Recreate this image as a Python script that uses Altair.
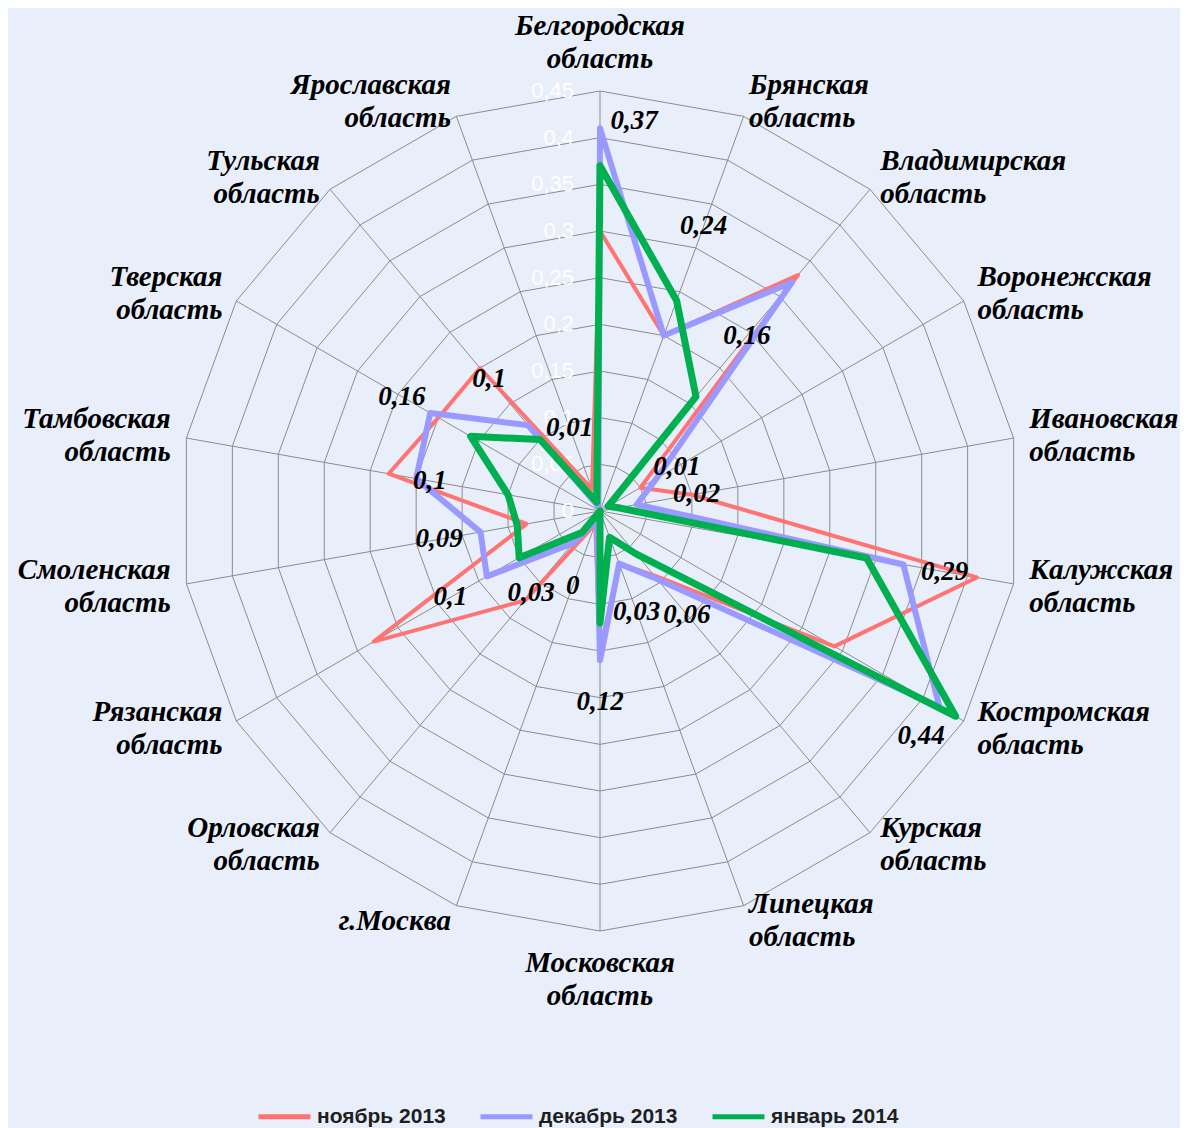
import altair as alt
import pandas as pd

# ---------------- data ----------------
categories = [
    "Белгородская\nобласть", "Брянская\nобласть", "Владимирская\nобласть", "Воронежская\nобласть",
    "Ивановская\nобласть", "Калужская\nобласть", "Костромская\nобласть", "Курская\nобласть",
    "Липецкая\nобласть", "Московская\nобласть", "г.Москва", "Орловская\nобласть",
    "Рязанская\nобласть", "Смоленская\nобласть", "Тамбовская\nобласть", "Тверская\nобласть",
    "Тульская\nобласть", "Ярославская\nобласть",
]
series_names = ["ноябрь 2013", "декабрь 2013", "январь 2014"]
nov_2013 = [0.30, 0.20, 0.33, 0.05, 0.10, 0.41, 0.29, 0.09, 0.06, 0.15, 0.015, 0.125,
            0.28, 0.08, 0.23, 0.20, 0.20, 0.025]
dec_2013 = [0.41, 0.20, 0.32, 0.07, 0.04, 0.33, 0.42, 0.095, 0.06, 0.16, 0.01, 0.045,
            0.14, 0.13, 0.20, 0.21, 0.12, 0.005]
jan_2014 = [0.37, 0.24, 0.16, 0.01, 0.02, 0.29, 0.44, 0.06, 0.03, 0.12, 0.0, 0.03,
            0.10, 0.09, 0.10, 0.16, 0.10, 0.01]
tick_values = [0, 0.05, 0.1, 0.15, 0.2, 0.25, 0.3, 0.35, 0.4, 0.45]
tick_labels = ["0", "0,05", "0,1", "0,15", "0,2", "0,25", "0,3", "0,35", "0,4", "0,45"]

colors = ["#FF7373", "#9999FF", "#00B050"]
widths = [4, 6, 7]

# ---------------- layout ----------------
N = len(categories)
W, H = 1172, 1120
CX, CY = 592, 503
PPU = 933.3
xdom = [-CX / PPU, (W - CX) / PPU]
ydom = [-(H - CY) / PPU, CY / PPU]
xs = alt.Scale(domain=xdom, nice=False, zero=False)
ys = alt.Scale(domain=ydom, nice=False, zero=False)
RMAX = tick_values[-1]
LINE_SHIFT = 16.5 / PPU  # centre two-line labels on their anchor

def fmt(v):
    return f"{v:g}".replace(".", ",")

series_rows = []
for name, vals in zip(series_names, [nov_2013, dec_2013, jan_2014]):
    for k in range(N + 1):
        series_rows.append({"series": name, "k": k, "v": vals[k % N]})
series_df = pd.DataFrame(series_rows)

ring_rows = []
for t in tick_values[1:]:
    for k in range(N + 1):
        ring_rows.append({"ring": t, "k": k, "v": t})
ring_df = pd.DataFrame(ring_rows)

spoke_df = pd.DataFrame({"k": list(range(N)), "v": [RMAX] * N, "z": [0] * N})
tick_df = pd.DataFrame({"v": tick_values, "label": tick_labels, "z": [0] * len(tick_values)})
cat_df = pd.DataFrame({"k": list(range(N)), "label": categories})
lab_df = pd.DataFrame({"k": list(range(N)), "v": jan_2014, "label": [fmt(v) for v in jan_2014]})

ang = "2*PI*datum.k/18"
calc_xy = dict(x=f"datum.v*sin({ang})", y=f"datum.v*cos({ang})")

rings = alt.Chart(ring_df).mark_line(color="#8C8C8C", strokeWidth=1).transform_calculate(
    **calc_xy
).encode(
    x=alt.X("x:Q", scale=xs, axis=None),
    y=alt.Y("y:Q", scale=ys, axis=None),
    detail="ring:N",
    order="k:Q",
)

spokes = alt.Chart(spoke_df).mark_rule(color="#8C8C8C", strokeWidth=1).transform_calculate(
    **calc_xy
).encode(
    x=alt.X("z:Q", scale=xs, axis=None),
    y=alt.Y("z:Q", scale=ys, axis=None),
    x2="x:Q",
    y2="y:Q",
)

ticks = alt.Chart(tick_df).mark_text(
    align="right", baseline="middle", dx=-26, color="white",
    font="Liberation Sans", fontSize=22,
).encode(
    x=alt.X("z:Q", scale=xs, axis=None),
    y=alt.Y("v:Q", scale=ys, axis=None),
    text="label:N",
)

color_enc = alt.Color(
    "series:N",
    scale=alt.Scale(domain=series_names, range=colors),
    legend=alt.Legend(
        title=None, orient="none", legendX=248, legendY=1080, direction="horizontal",
        symbolType="stroke", symbolSize=2700, symbolStrokeWidth=5,
        labelFont="Liberation Sans", labelFontWeight="bold", labelFontSize=21,
        labelColor="#1F1F1F", columnPadding=24, labelOffset=4, labelLimit=300,
    ),
)

line_layers = []
for name, w in zip(series_names, widths):
    line_layers.append(
        alt.Chart(series_df).transform_filter(alt.datum.series == name).transform_calculate(
            **calc_xy
        ).mark_line(strokeWidth=w, strokeJoin="round", strokeCap="round").encode(
            x=alt.X("x:Q", scale=xs, axis=None),
            y=alt.Y("y:Q", scale=ys, axis=None),
            color=color_enc,
            order="k:Q",
        )
    )

labels = alt.Chart(lab_df).transform_calculate(
    r="min(datum.v + 0.085, 0.42)",
    a=f"{ang} + (datum.v > 0.35 ? 5*PI/180 : 0)",
).transform_calculate(
    x="datum.r*sin(datum.a)", y="datum.r*cos(datum.a)"
).mark_text(
    font="Liberation Serif", fontStyle="italic", fontWeight="bold", fontSize=27,
    color="black", align="center", baseline="middle",
).encode(
    x=alt.X("x:Q", scale=xs, axis=None),
    y=alt.Y("y:Q", scale=ys, axis=None),
    text="label:N",
)

def cat_layer(filter_expr, align, radius):
    return alt.Chart(cat_df).transform_filter(filter_expr).transform_calculate(
        x=f"{radius}*sin({ang})",
        y=f"{radius}*cos({ang}) + (indexof(datum.label, '\\n') >= 0 ? {LINE_SHIFT} : 0)",
    ).mark_text(
        font="Liberation Serif", fontStyle="italic", fontWeight="bold", fontSize=29,
        lineHeight=33, lineBreak="\n", color="black", align=align, baseline="middle",
    ).encode(
        x=alt.X("x:Q", scale=xs, axis=None),
        y=alt.Y("y:Q", scale=ys, axis=None),
        text="label:N",
    )

cat_right = cat_layer("datum.k >= 1 && datum.k <= 8", "left", RMAX + 0.017)
cat_left = cat_layer("datum.k >= 10", "right", RMAX + 0.017)
cat_mid = cat_layer("datum.k == 0 || datum.k == 9", "center", RMAX + 0.052)

chart = alt.layer(
    rings, spokes, ticks, *line_layers, labels, cat_right, cat_left, cat_mid
).properties(
    width=W, height=H, autosize=alt.AutoSizeParams(type="none"), padding=0,
).configure(background="#E9EEFB").configure_view(stroke=None)

chart.save("out.html", embed_options={"renderer": "svg", "actions": False})
